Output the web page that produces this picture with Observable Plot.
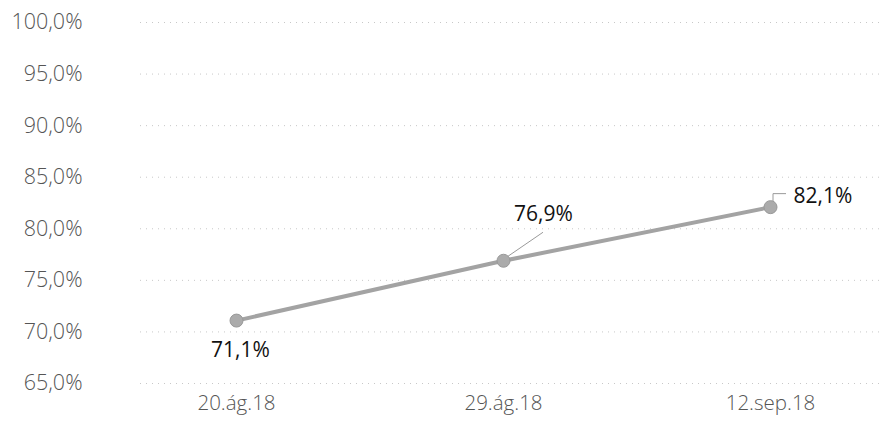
<!DOCTYPE html>
<html>
<head>
<meta charset="utf-8">
<script src="https://cdn.jsdelivr.net/npm/d3@7"></script>
<script src="https://cdn.jsdelivr.net/npm/@observablehq/plot@0.6"></script>
<style>
  html, body { margin: 0; padding: 0; background: #fff; }
  #chart svg { display: block; }
</style>
</head>
<body>
<div id="chart"></div>
<script>
const dates = ["20.ág.18", "29.ág.18", "12.sep.18"];
const values = [71.1, 76.9, 82.1];
const yTicks = [65, 70, 75, 80, 85, 90, 95, 100];

const data = dates.map((d, i) => ({date: d, value: values[i]}));
const fmt = v => v.toFixed(1).replace(".", ",") + "%";

// leader lines drawn in pixel space from the scaled point positions
const leaders = (index, scales) => {
  const g = d3.create("svg:g");
  const d1 = data[1], d2 = data[2];
  const x1 = scales.x(d1.date), y1 = scales.y(d1.value);
  const x2 = scales.x(d2.date), y2 = scales.y(d2.value);
  g.append("path").attr("d", `M${x1 + 5},${y1 - 4}L${x1 + 40},${y1 - 28}`)
    .attr("fill", "none").attr("stroke", "#9a9a9a").attr("stroke-width", 1);
  g.append("path").attr("d", `M${x2 + 3},${y2 - 5}L${x2 + 3},${y2 - 13}L${x2 + 16},${y2 - 13}`)
    .attr("fill", "none").attr("stroke", "#9a9a9a").attr("stroke-width", 1);
  return g.node();
};

const chart = Plot.plot({
  width: 891,
  height: 428,
  marginLeft: 140,
  marginRight: 11,
  marginTop: 22,
  marginBottom: 45,
  style: {fontFamily: "'Open Sans', Lato, sans-serif", fontSize: "20px", color: "#595959", background: "#fff"},
  x: {type: "point", domain: dates, range: [236, 770], padding: 0, label: null},
  y: {domain: [65, 100], label: null},
  marks: [
    Plot.ruleY(yTicks, {stroke: "#c8c8c8", strokeDasharray: "1,5", strokeWidth: 1}),
    Plot.axisY({ticks: yTicks, tickFormat: fmt, tickSize: 0, tickPadding: 58, fontSize: 21.5, fontWeight: 300, fill: "#555", label: null}),
    Plot.axisX({tickSize: 0, tickPadding: 12, fontSize: 20.5, fontWeight: 300, fill: "#555", label: null}),
    Plot.line(data, {x: "date", y: "value", stroke: "#a3a3a3", strokeWidth: 4}),
    Plot.dot(data, {x: "date", y: "value", r: 6.5, fill: "#ababab", stroke: "#999", strokeWidth: 1}),
    leaders,
    Plot.text(data.filter((d, i) => i === 0), {x: "date", y: "value", text: d => fmt(d.value), dx: 4, dy: 30, fontSize: 21, fill: "#111"}),
    Plot.text(data.filter((d, i) => i === 1), {x: "date", y: "value", text: d => fmt(d.value), dx: 40, dy: -46, fontSize: 21, fill: "#111"}),
    Plot.text(data.filter((d, i) => i === 2), {x: "date", y: "value", text: d => fmt(d.value), dx: 23, dy: -11, textAnchor: "start", fontSize: 21, fill: "#111"})
  ]
});
document.getElementById("chart").appendChild(chart);
</script>
</body>
</html>
